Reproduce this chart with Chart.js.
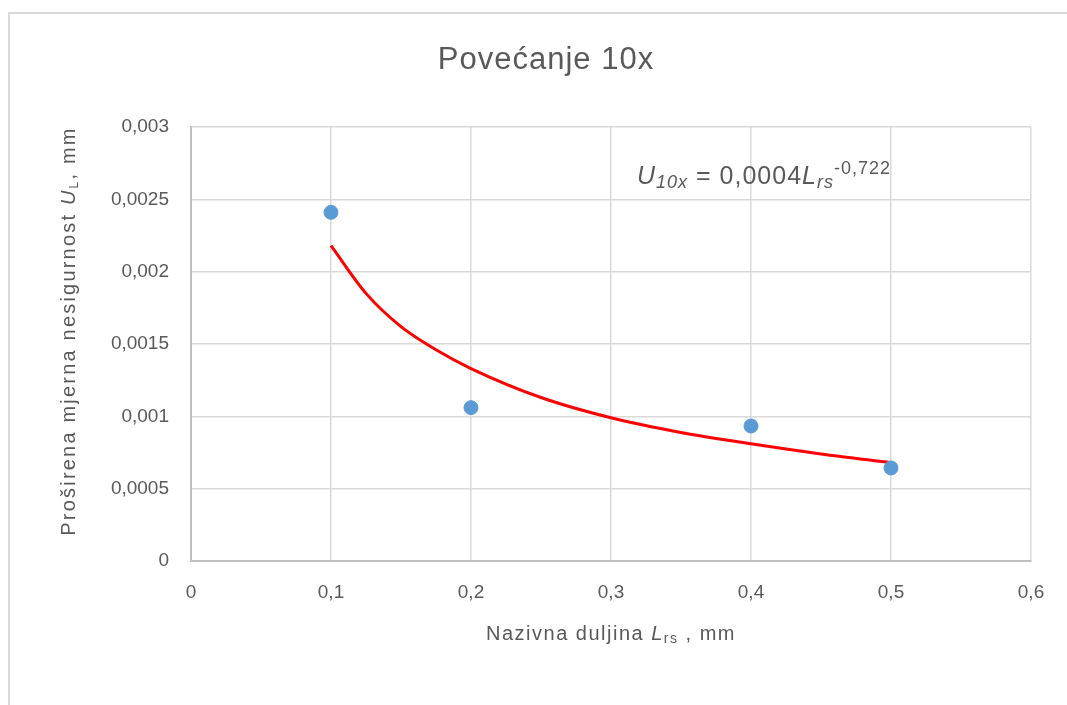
<!DOCTYPE html>
<html>
<head>
<meta charset="utf-8">
<script src="https://cdn.jsdelivr.net/npm/chart.js@4/dist/chart.umd.min.js"></script>
<style>
  html, body { margin: 0; padding: 0; background: #fff; }
  #wrap { position: relative; width: 1067px; height: 705px; }
</style>
</head>
<body>
<div id="wrap"><canvas id="chart-povecanje" width="1067" height="705"></canvas></div>
<script>
// izmjereni podaci
var duljine = [0.1, 0.2, 0.4, 0.5];
var nesigurnosti = [0.00241, 0.00106, 0.000933, 0.000643];

// trend linija (ocitano sa slike)
var trendX = [0.1, 0.125, 0.15, 0.175, 0.2, 0.25, 0.3, 0.35, 0.4, 0.45, 0.5];
var trendY = [0.00218, 0.00185, 0.00162, 0.00146, 0.00133, 0.00113, 0.00099, 0.000888, 0.00081, 0.00074, 0.00068];

var xTickLabels = ['0', '0,1', '0,2', '0,3', '0,4', '0,5', '0,6'];
var yTickLabels = ['0', '0,0005', '0,001', '0,0015', '0,002', '0,0025', '0,003'];

var FONT = '"Liberation Sans", "Noto Sans", sans-serif';
var GREY = '#595959';

// crta tekst s indeksima/eksponentima
function drawRich(ctx, parts, x, y, align, spacing) {
    ctx.letterSpacing = (spacing || 0) + 'px';
    var w = 0;
    parts.forEach(function(p) {
        ctx.font = (p.italic ? 'italic ' : '') + p.size + 'px ' + FONT;
        p.w = ctx.measureText(p.text).width;
        w += p.w;
    });
    var cx = align === 'center' ? x - w / 2 : x;
    parts.forEach(function(p) {
        ctx.font = (p.italic ? 'italic ' : '') + p.size + 'px ' + FONT;
        ctx.fillText(p.text, cx, y + (p.dy || 0));
        cx += p.w;
    });
    ctx.letterSpacing = '0px';
}

var ukrasi = {
    id: 'ukrasi',
    beforeDraw: function(chart) {
        var ctx = chart.ctx;
        ctx.save();
        ctx.strokeStyle = '#d9d9d9';
        ctx.lineWidth = 2;
        ctx.beginPath();
        ctx.moveTo(9, 705);
        ctx.lineTo(9, 13);
        ctx.lineTo(1067, 13);
        ctx.stroke();
        ctx.restore();
    },
    afterDraw: function(chart) {
        var ctx = chart.ctx;
        var xs = chart.scales.x;
        ctx.save();
        ctx.fillStyle = GREY;
        ctx.textBaseline = 'alphabetic';
        ctx.textAlign = 'left';

        // naslov
        drawRich(ctx, [{ text: 'Povećanje 10x', size: 31 }], 546, 69, 'center', 1);

        // naslov x osi
        drawRich(ctx, [
            { text: 'Nazivna duljina ', size: 20 },
            { text: 'L', size: 20, italic: true },
            { text: 'rs', size: 14, dy: 3 },
            { text: ' , mm', size: 20 }
        ], (xs.left + xs.right) / 2, 640, 'center', 1.5);

        // naslov y osi
        ctx.save();
        ctx.translate(75, 331);
        ctx.rotate(-Math.PI / 2);
        drawRich(ctx, [
            { text: 'Proširena mjerna nesigurnost ', size: 20 },
            { text: 'U', size: 20, italic: true },
            { text: 'L', size: 12, dy: 3 },
            { text: ', mm', size: 20 }
        ], 0, 0, 'center', 2.2);
        ctx.restore();

        // jednadzba trenda
        drawRich(ctx, [
            { text: 'U', size: 25, italic: true },
            { text: '10x', size: 18, italic: true, dy: 4 },
            { text: ' = 0,0004', size: 25 },
            { text: 'L', size: 25, italic: true },
            { text: 'rs', size: 18, italic: true, dy: 4 },
            { text: '-0,722', size: 18, dy: -10 }
        ], 637, 184, 'left', 1);
        ctx.restore();
    }
};

var trendTocke = trendX.map(function(x, i) { return { x: x, y: trendY[i] }; });
var mjerenja = duljine.map(function(x, i) { return { x: x, y: nesigurnosti[i] }; });

new Chart(document.getElementById('chart-povecanje'), {
    type: 'scatter',
    data: {
        datasets: [{
            data: trendTocke,
            showLine: true,
            borderColor: '#ff0000',
            borderWidth: 3,
            pointRadius: 0,
            cubicInterpolationMode: 'monotone',
            order: 2
        }, {
            data: mjerenja,
            backgroundColor: '#5b9bd5',
            borderColor: '#5b9bd5',
            pointRadius: 7,
            order: 1
        }]
    },
    options: {
        responsive: false,
        animation: false,
        layout: { padding: { top: 127, right: 36, left: 0, bottom: 0 } },
        plugins: { legend: { display: false }, tooltip: { enabled: false } },
        scales: {
            x: {
                type: 'linear',
                min: 0, max: 0.6,
                afterFit: function(s) { s.height = 144; },
                afterBuildTicks: function(s) {
                    s.ticks = xTickLabels.map(function(t, i) { return { value: i * 0.1 }; });
                },
                ticks: {
                    padding: 20,
                    color: GREY,
                    font: { family: FONT, size: 19 },
                    callback: function(v, i) { return xTickLabels[i]; }
                },
                grid: { color: '#d9d9d9', lineWidth: 1.5, drawTicks: false },
                border: { color: '#bfbfbf', width: 2 }
            },
            y: {
                type: 'linear',
                min: 0, max: 0.003,
                afterFit: function(s) { s.width = 191; },
                afterBuildTicks: function(s) {
                    s.ticks = yTickLabels.map(function(t, i) { return { value: i * 0.0005 }; });
                },
                ticks: {
                    padding: 22,
                    color: GREY,
                    font: { family: FONT, size: 19 },
                    callback: function(v, i) { return yTickLabels[i]; }
                },
                grid: { color: '#d9d9d9', lineWidth: 1.5, drawTicks: false },
                border: { color: '#bfbfbf', width: 2 }
            }
        }
    },
    plugins: [ukrasi]
});
</script>
</body>
</html>
